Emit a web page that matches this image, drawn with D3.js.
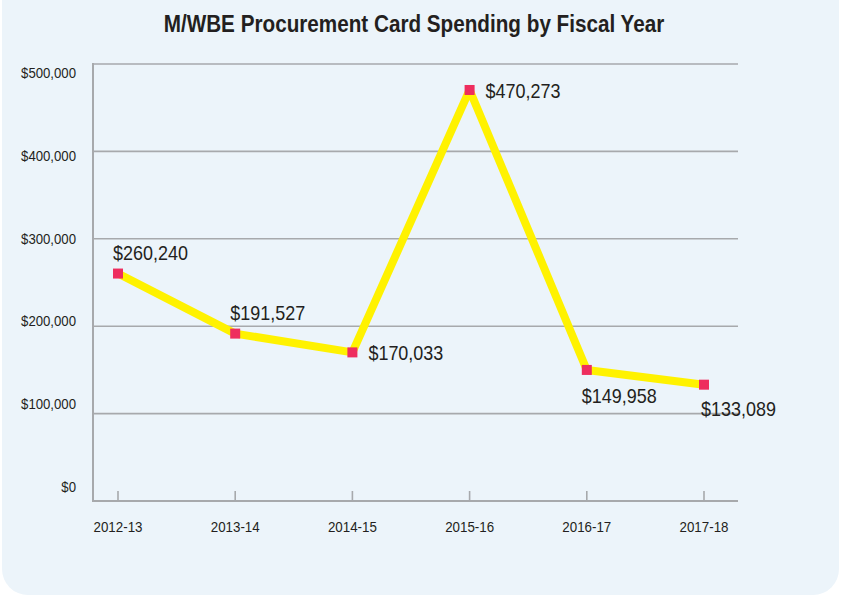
<!DOCTYPE html>
<meta charset="utf-8">
<style>
body { margin: 0; background: #fff; }
svg { display: block; font-family: "Liberation Sans", Arial, sans-serif; }
.title { font-weight: bold; font-size: 24px; fill: #231f20; }
.y-label { font-size: 14px; fill: #231f20; }
.x-label { font-size: 15px; fill: #231f20; }
.value-label { font-size: 20px; fill: #231f20; }
</style>
<script src="https://d3js.org/d3.v7.min.js"></script>
<body>
<svg id="chart"></svg>
<script>

var width = 842,
    height = 596;

// data
var years = ["2012-13", "2013-14", "2014-15", "2015-16", "2016-17", "2017-18"];
var spending = [260240, 191527, 170033, 470273, 149958, 133089];
var yTicks = [0, 100000, 200000, 300000, 400000, 500000];
// where each value label sits relative to its point
var labelSide = ["above", "above", "right", "right", "below", "belowRight"];

var svg = d3.select("#chart")
    .attr("width", width)
    .attr("height", height);

// no condensed font installed: measure a sample string and squeeze
// the text horizontally so it takes the width it has in the original
function squeezeFor(cls, sample, target) {
    var t = svg.append("text").attr("class", cls).text(sample);
    var w = t.node().getComputedTextLength();
    t.remove();
    return target / w;
}
function squeeze(x, y, sx) {
    return "translate(" + x + "," + y + ") scale(" + sx + ",1)";
}

// panel background, rounded at the bottom
svg.append("rect")
    .attr("x", 2)
    .attr("y", -40)
    .attr("width", 837)
    .attr("height", 635)
    .attr("rx", 26)
    .attr("fill", "#ecf4fa");

var titleText = "M/WBE Procurement Card Spending by Fiscal Year";
svg.append("text")
    .attr("class", "title")
    .attr("transform", squeeze(414, 32, squeezeFor("title", titleText, 501)))
    .attr("text-anchor", "middle")
    .text(titleText);

var plotLeft = 93, plotRight = 738;

var x = d3.scalePoint()
    .domain(years)
    .range([118, 704]);

var y = d3.scaleLinear()
    .domain([0, 500000])
    .range([501, 64]);

// the y labels in the original are spaced a little tighter than the grid
var yLabel = d3.scaleLinear()
    .domain([0, 500000])
    .range([487, 73]);

var fmt = d3.format("$,");

// grid lines
svg.append("g")
    .selectAll("line")
    .data(yTicks.filter(function(d) { return d > 0; }))
    .enter().append("line")
    .attr("x1", plotLeft)
    .attr("x2", plotRight)
    .attr("y1", function(d) { return y(d); })
    .attr("y2", function(d) { return y(d); })
    .attr("stroke", "#a7a9ac")
    .attr("stroke-width", 1.6);

// y labels
var sy = squeezeFor("y-label", "$500,000", 55);
svg.append("g")
    .selectAll("text")
    .data(yTicks)
    .enter().append("text")
    .attr("class", "y-label")
    .attr("transform", function(d) { return squeeze(76, yLabel(d) + 5, sy); })
    .attr("text-anchor", "end")
    .text(function(d) { return fmt(d); });

// axes
svg.append("line")
    .attr("x1", plotLeft).attr("x2", plotLeft)
    .attr("y1", y(500000) - 1).attr("y2", y(0) + 1)
    .attr("stroke", "#a7a9ac").attr("stroke-width", 2);
svg.append("line")
    .attr("x1", plotLeft).attr("x2", plotRight)
    .attr("y1", y(0)).attr("y2", y(0))
    .attr("stroke", "#a7a9ac").attr("stroke-width", 2);

// x ticks and labels
var sx = squeezeFor("x-label", "2012-13", 49);
var xt = svg.append("g")
    .selectAll("g")
    .data(years)
    .enter().append("g")
    .attr("transform", function(d) { return "translate(" + x(d) + ",0)"; });
xt.append("line")
    .attr("y1", y(0)).attr("y2", y(0) - 10)
    .attr("stroke", "#a7a9ac").attr("stroke-width", 1.6);
xt.append("text")
    .attr("class", "x-label")
    .attr("transform", squeeze(0, 532, sx))
    .attr("text-anchor", "middle")
    .text(function(d) { return d; });

// line
var line = d3.line()
    .x(function(d, i) { return x(years[i]); })
    .y(function(d) { return y(d); });

svg.append("path")
    .datum(spending)
    .attr("d", line)
    .attr("fill", "none")
    .attr("stroke", "#fff200")
    .attr("stroke-width", 8)
    .attr("stroke-linejoin", "round");

// markers
svg.append("g")
    .selectAll("rect")
    .data(spending)
    .enter().append("rect")
    .attr("x", function(d, i) { return x(years[i]) - 5; })
    .attr("y", function(d) { return y(d) - 5; })
    .attr("width", 10)
    .attr("height", 10)
    .attr("fill", "#ee2d5e");

// value labels
var sv = squeezeFor("value-label", "$470,273", 75);
svg.append("g")
    .selectAll("text")
    .data(spending)
    .enter().append("text")
    .attr("class", "value-label")
    .attr("transform", function(d, i) {
        var px = x(years[i]), py = y(d);
        var lx = px - 5, ly = py + 31;
        if (labelSide[i] == "above") ly = py - 14;
        if (labelSide[i] == "right") { lx = px + 16; ly = py + 8; }
        if (labelSide[i] == "below") ly = py + 33;
        if (labelSide[i] == "belowRight") lx = px - 3;
        return squeeze(lx, ly, sv);
    })
    .text(function(d) { return fmt(d); });

</script>
</body>
